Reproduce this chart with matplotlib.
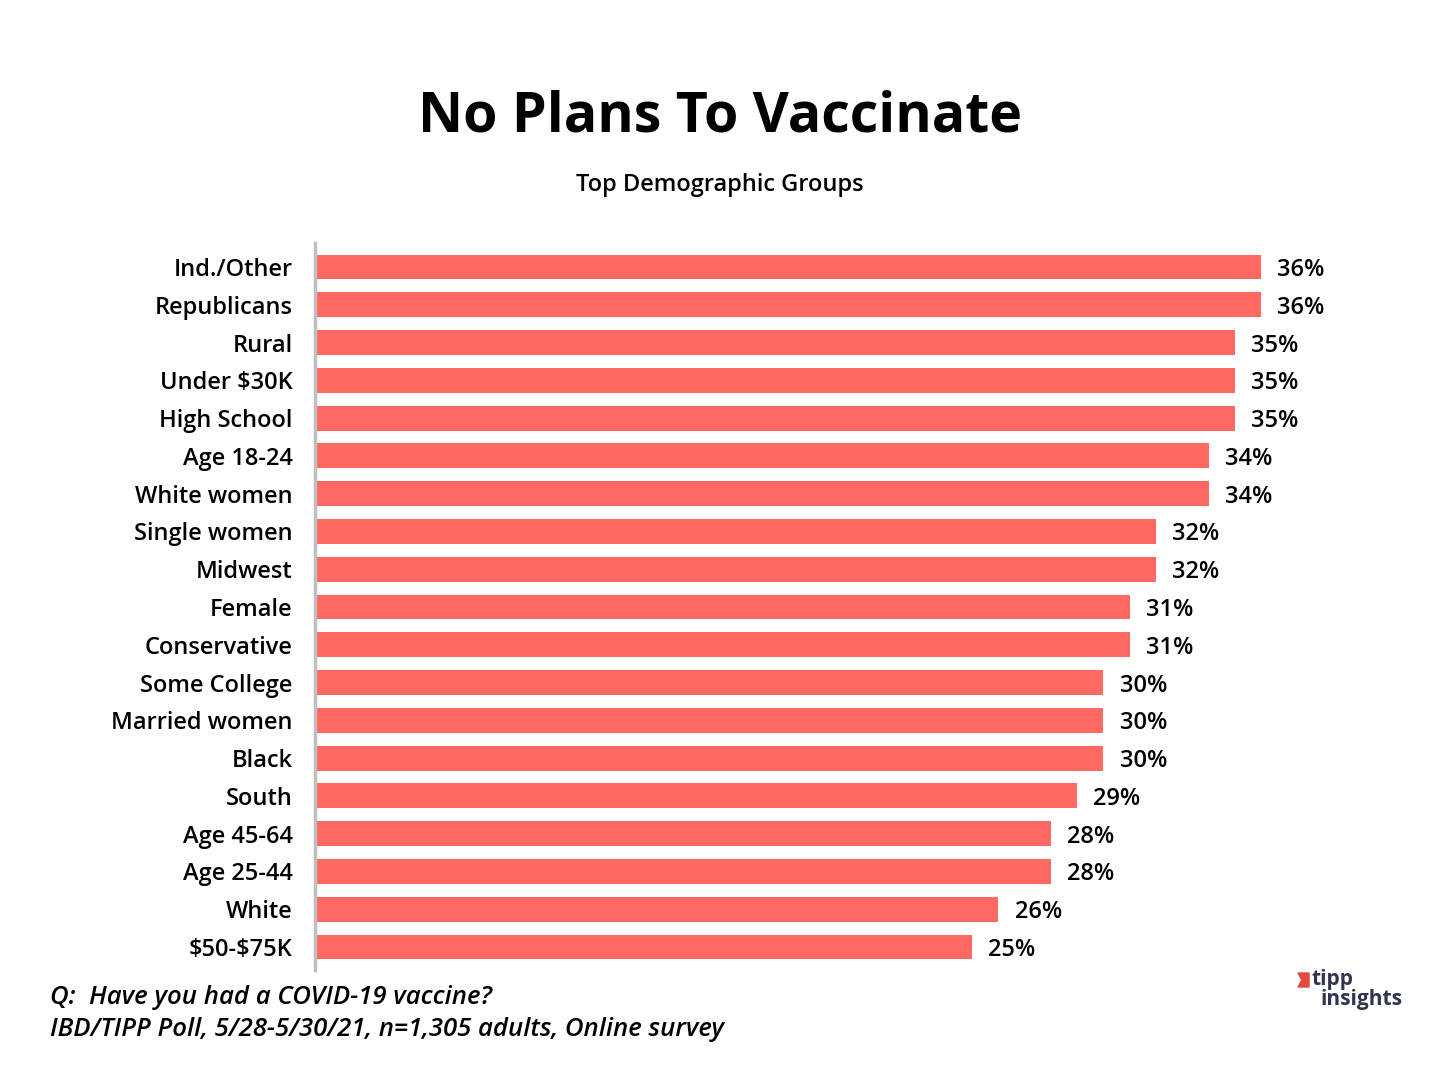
import numpy as np
import matplotlib
matplotlib.use("Agg")
import matplotlib.pyplot as plt

# datos
grupos = ["Ind./Other", "Republicans", "Rural", "Under \\$30K", "High School",
          "Age 18-24", "White women", "Single women", "Midwest", "Female",
          "Conservative", "Some College", "Married women", "Black", "South",
          "Age 45-64", "Age 25-44", "White", "\\$50-\\$75K"]
valores = [36, 36, 35, 35, 35, 34, 34, 32, 32, 31, 31, 30, 30, 30, 29, 28, 28, 26, 25]

plt.rcParams['font.family'] = ['Open Sans', 'DejaVu Sans']

fig = plt.figure(figsize=(14.4, 10.8), dpi=100)
ax = fig.add_axes([315/1440, 1 - 970/1080, (1400-315)/1440, 727/1080])

y = np.arange(len(grupos))
ax.barh(y, valores, height=0.66, color='#FF6961')
ax.set_xlim(0, (1400-315)/26.28)
ax.set_ylim(18 + 23/37.8, -24/37.8)

for yi, v in zip(y, valores):
    ax.text(v + 0.62, yi, f"{v}%", va='center_baseline', ha='left', fontsize=17,
            fontweight='semibold', color='black')

ax.set_yticks(y)
ax.set_yticklabels(grupos, fontsize=17, fontweight='semibold')
ax.tick_params(axis='y', length=0, pad=16)
ax.set_xticks([])
for s in ['top', 'right', 'bottom']:
    ax.spines[s].set_visible(False)
ax.spines['left'].set_color('#BFBFBF')
ax.spines['left'].set_linewidth(2.5)

fig.text(0.5, 1 - 117/1080, "No Plans To Vaccinate", ha='center', va='center',
         fontsize=40, fontweight='bold')
fig.text(0.5, 1 - 185/1080, "Top Demographic Groups", ha='center', va='center',
         fontsize=17, fontweight='semibold')

fig.text(50/1440, 1 - 998/1080, "Q:  Have you had a COVID-19 vaccine?", ha='left',
         va='center', fontsize=18.5, style='italic', fontweight='semibold')
fig.text(50/1440, 1 - 1030/1080, "IBD/TIPP Poll, 5/28-5/30/21, n=1,305 adults, Online survey",
         ha='left', va='center', fontsize=18.5, style='italic', fontweight='semibold')

# logo
fig.text(1311/1440, 1 - 979/1080, "tipp", ha='left', va='center', fontsize=15,
         fontweight='bold', color='#2F3450')
fig.text(1320/1440, 1 - 999/1080, "insights", ha='left', va='center', fontsize=15,
         fontweight='bold', color='#2F3450')
fig.patches.append(plt.Polygon([[1298/1440, 1 - 973/1080], [1309/1440, 1 - 973/1080],
                                [1309/1440, 1 - 987/1080], [1298/1440, 1 - 987/1080],
                                [1302/1440, 1 - 980/1080]],
                               closed=True, transform=fig.transFigure, color='#E8473F'))

fig.savefig("out.png", dpi=100)
